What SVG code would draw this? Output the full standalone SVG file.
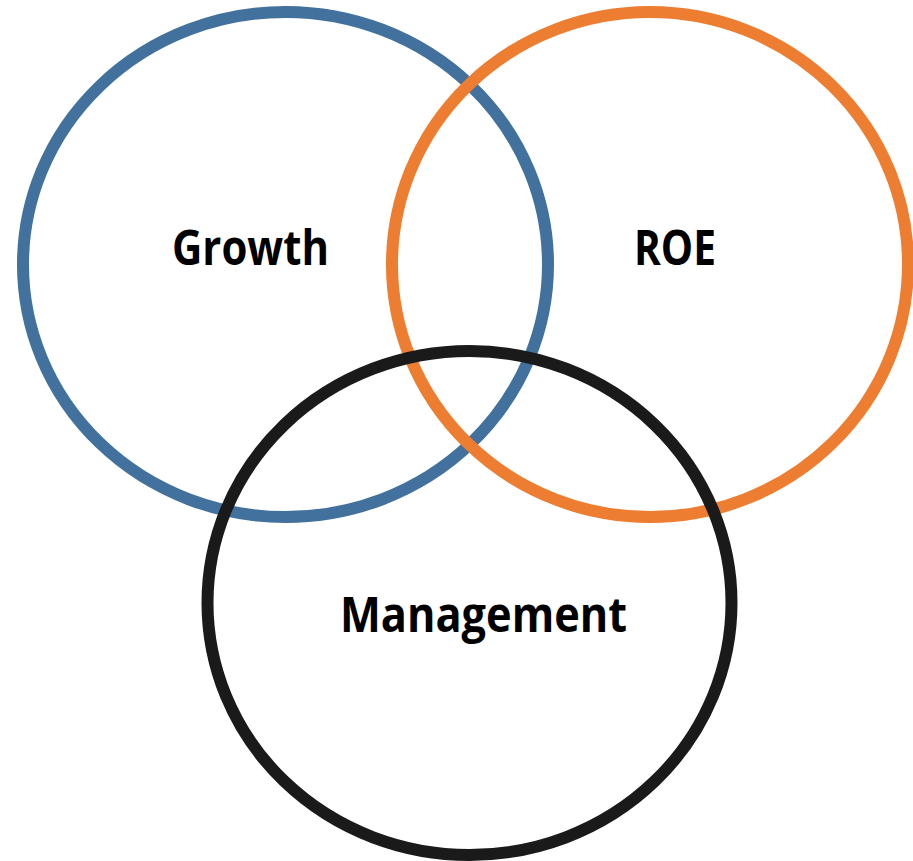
<svg xmlns="http://www.w3.org/2000/svg" width="913" height="861" viewBox="0 0 913 861">
  <style>
    .ring { fill: none; stroke-width: 12; }
    .label { font-family: "Open Sans", "Liberation Sans", sans-serif; font-weight: bold; font-size: 48px; fill: #000; text-anchor: start; }
  </style>
  <rect width="913" height="861" fill="#fff"/>
  <g id="growth">
    <ellipse class="ring" cx="285.5" cy="264.5" rx="262.5" ry="252.5" stroke="#41719C"/>
    <text class="label" x="172" y="265" textLength="157" lengthAdjust="spacingAndGlyphs">Growth</text>
  </g>
  <g id="roe">
    <ellipse class="ring" cx="650" cy="264.5" rx="258" ry="252.5" stroke="#ED7D31" stroke-width="11"/>
    <text class="label" x="634" y="265" textLength="82" lengthAdjust="spacingAndGlyphs">ROE</text>
  </g>
  <g id="management">
    <ellipse class="ring" cx="469.5" cy="603" rx="262" ry="252" stroke="#1A1A1A"/>
    <text class="label" x="340" y="632" textLength="287" lengthAdjust="spacingAndGlyphs">Management</text>
  </g>
</svg>
